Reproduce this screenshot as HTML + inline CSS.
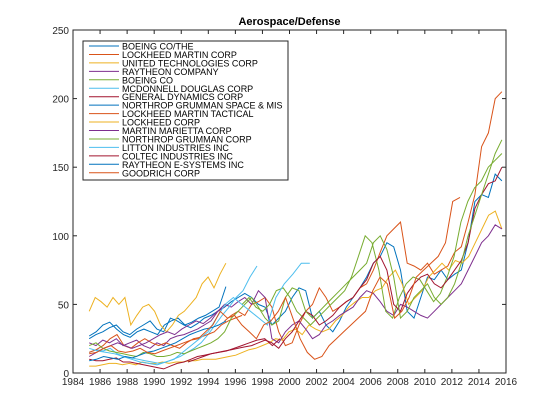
<!DOCTYPE html>
<html><head><meta charset="utf-8"><style>
body{margin:0;background:#fff;}
svg{display:block;font-family:"Liberation Sans",sans-serif;}
</style></head><body>
<svg id="chart" width="560" height="420"></svg>
<script>
const seriesNames=["BOEING CO/THE","LOCKHEED MARTIN CORP","UNITED TECHNOLOGIES CORP","RAYTHEON COMPANY","BOEING CO","MCDONNELL DOUGLAS CORP","GENERAL DYNAMICS CORP","NORTHROP GRUMMAN SPACE & MIS","LOCKHEED MARTIN TACTICAL","LOCKHEED CORP","MARTIN MARIETTA CORP","NORTHROP GRUMMAN CORP","LITTON INDUSTRIES INC","COLTEC INDUSTRIES INC","RAYTHEON E-SYSTEMS INC","GOODRICH CORP"];
const seriesStart=[1985.2,1995.2,1985.2,1985.2,1996.5,1985.2,1985.2,1985.2,1985.2,1985.2,1985.2,1985.2,1985.2,1992.5,1985.2,1985.2];
const seriesEnd=[2015.7,2015.7,2015.7,2015.7,2015.7,1997.6,2015.7,1995.3,1996.5,1995.3,1995.2,2015.7,2001.5,1999.3,1995.3,2012.6];
const s1=[25,28,30,33,35,30,28,32,35,38,32,30,40,38,35,33,36,40,42,45,48,52,55,58,55,50,48,35,40,45,55,62,60,40,45,35,30,38,48,55,62,70,80,85,95,92,75,45,40,55,70,68,75,68,72,75,95,125,130,128,145,140];
const s2=[38,42,45,42,50,52,55,48,30,20,22,35,45,50,62,55,45,48,52,55,62,65,75,88,100,105,110,80,78,75,80,72,75,78,88,92,110,130,165,175,200,205];
const s3=[5,5,6,7,7,6,7,6,8,7,7,8,7,8,8,9,9,10,10,10,11,12,13,15,17,18,20,22,25,24,30,32,28,35,32,30,32,38,42,48,52,55,55,60,62,70,75,65,50,55,60,70,75,80,75,82,80,85,95,105,115,118,105];
const s4=[22,20,24,22,25,20,22,24,20,18,22,20,25,27,28,30,32,35,38,45,50,48,52,55,50,60,55,25,22,30,35,38,32,25,28,35,38,42,45,48,55,60,58,52,45,42,50,48,45,42,40,45,50,55,60,65,75,85,95,100,108,105];
const s5=[50,55,48,45,50,60,62,55,45,40,35,40,45,50,55,60,70,85,100,95,75,45,40,55,65,70,68,60,52,58,70,85,110,125,135,140,150,155,160];
const s6=[15,17,16,18,14,12,11,10,9,8,7,8,10,12,15,18,22,28,35,42,48,55,60,70,78];
const s7=[10,9,9,10,11,8,8,7,6,5,4,3,5,7,8,10,12,13,14,15,16,17,18,19,20,22,24,22,18,25,30,38,45,42,35,38,42,48,52,55,62,68,80,85,75,50,45,58,65,70,72,65,62,68,75,82,95,120,130,138,140,150];
const s8=[27,30,35,37,32,28,26,30,32,30,28,35,38,40,35,37,40,42,45,48,63];
const s9=[15,17,20,25,28,20,18,22,25,22,20,22,20,18,22,25,26,28,30,35,38,40,42];
const s10=[45,55,52,48,55,50,55,35,42,48,50,45,35,30,35,42,45,50,55,65,70,62,72,80];
const s11=[12,15,18,20,22,20,18,20,22,25,28,30,28,32,35,38,36,40,45,48];
const s12=[20,22,18,16,15,14,13,12,15,14,12,12,13,15,14,16,18,20,22,25,30,40,45,50,55,48,40,35,38,55,62,60,45,40,45,50,55,60,65,70,75,80,95,100,90,70,40,45,55,60,65,55,50,55,65,80,100,115,130,145,160,170];
const s13=[18,16,15,14,12,10,8,7,6,8,10,15,20,25,30,40,50,55,50,45,40,35,55,65,72,80,80];
const s14=[8,10,12,14,15,16,18,20,22,24,25,20,25];
const s15=[9,10,12,11,10,12,11,13,15,16,18,20,22,25,28,30,32,33,35,38];
const s16=[14,15,18,20,16,15,16,18,15,14,16,18,20,22,24,25,30,35,45,40,42,35,30,25,35,38,45,55,40,25,15,10,12,20,25,30,35,40,45,60,70,65,40,45,55,70,75,80,85,95,125,128];
const seriesValues=[s1,s2,s3,s4,s5,s6,s7,s8,s9,s10,s11,s12,s13,s14,s15,s16];
const xTicks=[1984,1986,1988,1990,1992,1994,1996,1998,2000,2002,2004,2006,2008,2010,2012,2014,2016];
const yTicks=[0,50,100,150,200,250];

const colors=["#0072BD","#D95319","#EDB120","#7E2F8E","#77AC30","#4DBEEE","#A2142F"];
const L=73,R=506,T=30,B=373;
const xs=v=>L+(v-1984)/(2016-1984)*(R-L);
const ys=v=>B-(v/250)*(B-T);
const NS="http://www.w3.org/2000/svg";
const svg=document.getElementById('chart');
function mk(tag,at,parent){const e=document.createElementNS(NS,tag);for(const k in at)e.setAttribute(k,at[k]);(parent||svg).appendChild(e);return e;}

const title=mk('text',{x:(L+R)/2,y:25,'text-anchor':'middle','font-size':'11','font-weight':'bold',fill:'#000'});
title.textContent='Aerospace/Defense';



const lines=mk('g',{});


seriesValues.forEach((vals,i)=>{
  const a=seriesStart[i],b=seriesEnd[i],n=vals.length;
  const pts=vals.map((v,j)=>xs(a+j*(b-a)/(n-1)).toFixed(1)+','+ys(v).toFixed(1)).join(' ');
  const p=mk('polyline',{points:pts,fill:'none',stroke:colors[i%7],'stroke-width':'1'},lines);
  
  
});

const ax=mk('rect',{x:L,y:T,width:R-L,height:B-T,fill:'none',stroke:'#262626','stroke-width':'1'});



xTicks.forEach(t=>{
  const x=xs(t);
  mk('line',{x1:x,y1:B,x2:x,y2:B-4,stroke:'#262626'});
  mk('line',{x1:x,y1:T,x2:x,y2:T+4,stroke:'#262626'});
  const tx=mk('text',{x:x,y:B+12,'text-anchor':'middle','font-size':'10',fill:'#262626'});
  tx.textContent=t;
  
  
});
yTicks.forEach(t=>{
  const y=ys(t);
  mk('line',{x1:L,y1:y,x2:L+4,y2:y,stroke:'#262626'});
  mk('line',{x1:R,y1:y,x2:R-4,y2:y,stroke:'#262626'});
  const tx=mk('text',{x:L-4,y:y+4,'text-anchor':'end','font-size':'10',fill:'#262626'});
  tx.textContent=t;
  
  
});

const lg=mk('g',{});


mk('rect',{x:83,y:41,width:205,height:139,fill:'#fff',stroke:'#262626','stroke-width':'1'},lg);
seriesNames.forEach((nm,i)=>{
  const y=46+i*8.45;
  mk('line',{x1:89,y1:y,x2:119,y2:y,stroke:colors[i%7],'stroke-width':'1'},lg);
  const tx=mk('text',{x:122,y:y+3.5,'font-size':'9',fill:'#000'},lg);
  tx.textContent=nm;
  
  
});
</script>
</body></html>
